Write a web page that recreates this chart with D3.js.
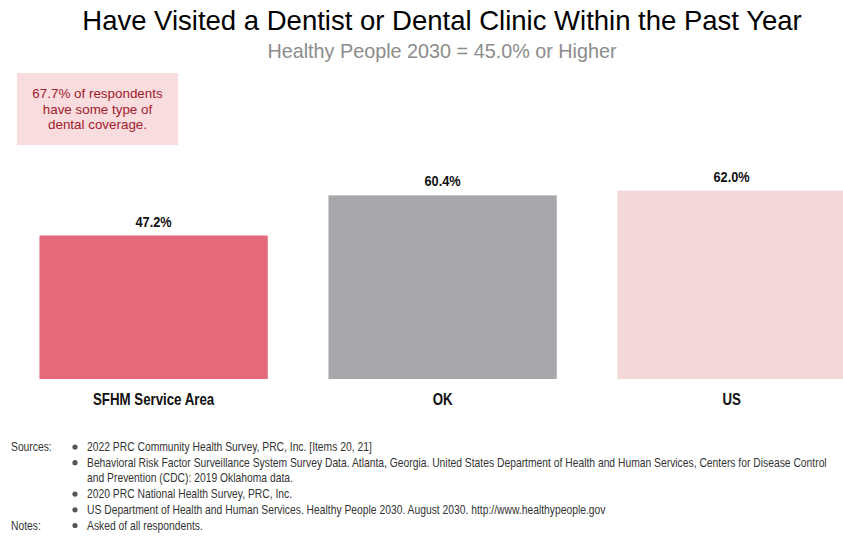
<!DOCTYPE html>
<html>
<head>
<meta charset="utf-8">
<script src="https://cdn.jsdelivr.net/npm/d3@7"></script>
<style>
  html, body { margin: 0; padding: 0; background: #fff; }
  svg { display: block; }
</style>
</head>
<body>
<svg id="chart" width="843" height="536"></svg>
<script>
// Chart data
const categories = ["SFHM Service Area", "OK", "US"];
const values = [47.2, 60.4, 62.0];
const barColors = ["#e46a79", "#a7a8ab", "#f4d7d8"];

const titleText = "Have Visited a Dentist or Dental Clinic Within the Past Year";
const subtitleText = "Healthy People 2030 = 45.0% or Higher";
const calloutLines = ["67.7% of respondents", "have some type of", "dental coverage."];

const sourceLines = [
  ["2022 PRC Community Health Survey, PRC, Inc. [Items 20, 21]"],
  ["Behavioral Risk Factor Surveillance System Survey Data. Atlanta, Georgia. United States Department of Health and Human Services, Centers for Disease Control",
   "and Prevention (CDC): 2019 Oklahoma data."],
  ["2020 PRC National Health Survey, PRC, Inc."],
  ["US Department of Health and Human Services. Healthy People 2030. August 2030. http://www.healthypeople.gov"]
];
const noteLines = [["Asked of all respondents."]];

const svg = d3.select("#chart");
const sans = "'Liberation Sans', Arial, Helvetica, sans-serif";

// Narrow-face look: squeeze each text horizontally by factor k around its anchor point
function condense(sel, k) {
  sel.each(function () {
    const t = d3.select(this);
    const x0 = +t.attr("x") || 0;
    const y0 = +t.attr("y") || 0;
    const prev = t.attr("transform") || "";
    t.attr("x", 0).attr("y", 0)
      .attr("transform", `${prev} translate(${x0},${y0}) scale(${k},1)`);
  });
}

// Scales
const x = d3.scaleBand()
  .domain(categories)
  .range([9.1, 876.1])
  .paddingInner(0.21)
  .paddingOuter(0.105);

const y = d3.scaleLinear().domain([0, 100]).range([379, 75]);

// Title and subtitle
svg.append("text")
  .attr("x", 442).attr("y", 30)
  .attr("text-anchor", "middle")
  .attr("font-family", sans)
  .attr("font-size", 27.5)
  .attr("fill", "#000")
  .text(titleText);

svg.append("text")
  .attr("x", 442).attr("y", 58)
  .attr("text-anchor", "middle")
  .attr("font-family", sans)
  .attr("font-size", 19.8)
  .attr("fill", "#8c8c8c")
  .text(subtitleText);

// Callout box
svg.append("rect")
  .attr("x", 17).attr("y", 73)
  .attr("width", 161).attr("height", 72)
  .attr("fill", "#f9dcdd");

svg.append("g")
  .attr("font-family", sans)
  .attr("font-size", 13.4)
  .attr("fill", "#a0202e")
  .attr("text-anchor", "middle")
  .selectAll("text")
  .data(calloutLines)
  .join("text")
  .attr("x", 97.5)
  .attr("y", (d, i) => 98 + i * 15.5)
  .text(d => d);

// Bars
const data = categories.map((c, i) => ({ cat: c, val: values[i], color: barColors[i] }));

svg.append("g")
  .selectAll("rect")
  .data(data)
  .join("rect")
  .attr("x", d => x(d.cat))
  .attr("y", d => y(d.val))
  .attr("width", x.bandwidth())
  .attr("height", d => y(0) - y(d.val))
  .attr("fill", d => d.color);

// Value labels
svg.append("g")
  .selectAll("text")
  .data(data)
  .join("text")
  .attr("x", d => x(d.cat) + x.bandwidth() / 2)
  .attr("y", d => y(d.val) - 9)
  .attr("text-anchor", "middle")
  .attr("font-family", sans)
  .attr("font-weight", "bold")
  .attr("font-size", 14.5)
  .attr("fill", "#111")
  .text(d => d.val.toFixed(1) + "%")
  .call(condense, 0.88);

// Category axis labels
const xAxis = d3.axisBottom(x).tickSize(0).tickPadding(0);
const gx = svg.append("g")
  .attr("transform", `translate(0, ${y(0)})`)
  .call(xAxis);
gx.select(".domain").remove();
gx.selectAll("text")
  .attr("dy", 0)
  .attr("y", 26)
  .attr("font-family", sans)
  .attr("font-weight", "bold")
  .attr("font-size", 16)
  .attr("fill", "#111")
  .call(condense, 0.83);

// Footnotes
const foot = svg.append("g")
  .attr("font-family", sans)
  .attr("font-size", 12)
  .attr("fill", "#333");

function block(label, entries, startY) {
  let yy = startY;
  foot.append("text").attr("x", 11).attr("y", yy).text(label).call(condense, 0.86);
  entries.forEach(lines => {
    foot.append("circle").attr("cx", 75).attr("cy", yy - 4).attr("r", 2.6).attr("fill", "#555");
    lines.forEach(line => {
      foot.append("text").attr("x", 87).attr("y", yy).text(line).call(condense, 0.86);
      yy += 15.7;
    });
  });
  return yy;
}

let nextY = block("Sources:", sourceLines, 451);
block("Notes:", noteLines, nextY);
</script>
</body>
</html>
